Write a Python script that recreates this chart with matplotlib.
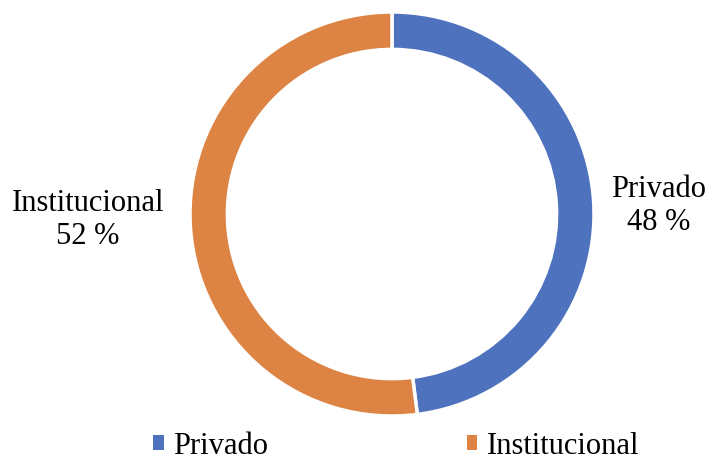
import matplotlib
matplotlib.use("Agg")
import matplotlib.pyplot as plt
from matplotlib.patches import Patch

categories = ["Privado", "Institucional"]
values = [48, 52]
colors = ["#4F72BE", "#DD8343"]

plt.rcParams['font.family'] = ['Liberation Serif', 'DejaVu Serif']

W, H = 721, 464
fig = plt.figure(figsize=(W / 100, H / 100), dpi=100)
cx, cy, R = 392, 215, 202
ax = fig.add_axes([(cx - R) / W, (H - cy - R) / H, 2 * R / W, 2 * R / H])
ax.pie(values, colors=colors, startangle=90, counterclock=False, radius=1,
       wedgeprops=dict(width=0.185, edgecolor="white", linewidth=2.5))
ax.set_xlim(-1, 1)
ax.set_ylim(-1, 1)
ax.set_aspect("equal")
ax.axis("off")

fs = 22
fig.text(659 / W, 1 - 206 / H, f"{categories[0]}\n{values[0]} %", ha="center", va="center",
         multialignment="center", fontsize=fs, linespacing=1.22)
fig.text(88 / W, 1 - 220 / H, f"{categories[1]}\n{values[1]} %", ha="center", va="center",
         multialignment="center", fontsize=fs, linespacing=1.22)

handles = [Patch(facecolor=c, edgecolor="none") for c in colors]
fig.legend(handles, categories, loc="center", bbox_to_anchor=(396 / W, 1 - 447 / H), ncol=2,
           frameon=False, fontsize=22, handlelength=0.35, handleheight=0.35,
           handletextpad=0.3, columnspacing=6.5, borderpad=0, borderaxespad=0)

fig.savefig("out.png", dpi=100)
